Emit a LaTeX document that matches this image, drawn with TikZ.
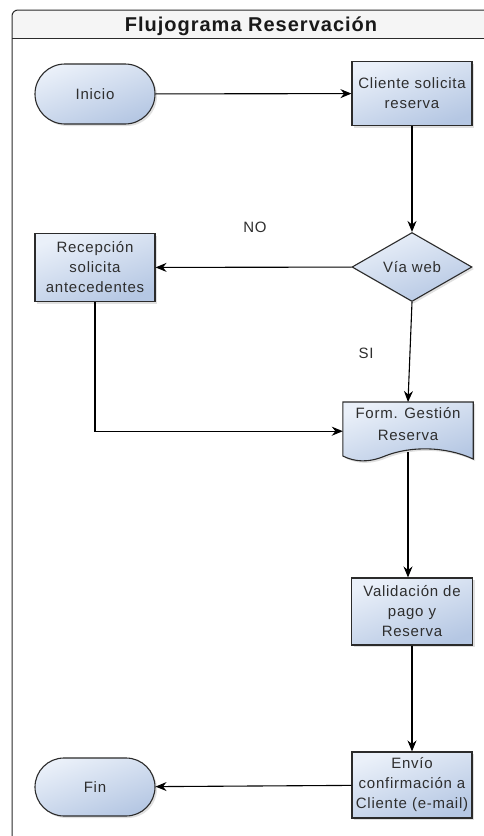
\documentclass[tikz,border=0pt]{standalone}
\usepackage{fontspec}
\setmainfont{Liberation Sans}
\newfontfamily\boxfont[LetterSpace=5]{Liberation Sans}
\newfontfamily\titlefont[LetterSpace=5]{Liberation Sans}
\usetikzlibrary{shapes.geometric,shapes.misc,arrows.meta,shadows}

\definecolor{fillhi}{HTML}{EAF0F9}
\definecolor{filllo}{HTML}{B5C7E3}
\definecolor{edge}{HTML}{2B2B2B}
\definecolor{ink}{HTML}{2E2E2E}

\tikzset{
  shapebase/.style={draw=edge, line width=1.1pt,
    top color=fillhi, bottom color=filllo, shading angle=20,
    drop shadow={shadow xshift=2pt, shadow yshift=-2pt, opacity=0.2, fill=black!60},
    text=ink, font=\boxfont\fontsize{15}{20}\selectfont, align=center, inner sep=0pt},
  procbox/.style={shapebase, rectangle, minimum width=120pt, minimum height=64pt, text width=118pt},
  terminal/.style={shapebase, rounded rectangle, minimum width=120pt, minimum height=60pt},
  decision/.style={shapebase, diamond, aspect=1.72, minimum width=120pt, minimum height=69pt},
  flow/.style={draw=black, line width=1.1pt, -{Stealth[length=11pt, width=9pt]}},
  tag/.style={text=ink, font=\boxfont\fontsize{15}{18}\selectfont}
}

\begin{document}
\begin{tikzpicture}[x=1pt, y=-1pt]
  \useasboundingbox (0,0) rectangle (483,836);

  % pool frame with title band
  \fill[white] (12,850) -- (12,16) arc[start angle=180, end angle=270, radius=6] -- (500,10) -- (500,850) -- cycle;
  \fill[black!4] (12,38) -- (12,16) arc[start angle=180, end angle=270, radius=6] -- (500,10) -- (500,38) -- cycle;
  \draw[edge, line width=1pt] (12,850) -- (12,16) arc[start angle=180, end angle=270, radius=6] -- (500,10);
  \draw[edge, line width=1pt] (12,38) -- (500,38);
  \node[font=\titlefont\bfseries\fontsize{20}{24}\selectfont, text=black!90] (title) at (251,26) {Flujograma Reservación};

  % flow elements
  \node[terminal] (inicio) at (95,94) {Inicio};
  \node[procbox] (cliente) at (412,93.5) {Cliente solicita\\reserva};
  \node[decision] (via) at (412,267) {Vía web};
  \node[procbox, minimum height=68pt] (recep) at (95,267.5) {Recepción\\solicita\\antecedentes};

  % document shape: anchor node plus wavy outline
  \node[inner sep=0pt, minimum width=130pt, minimum height=58pt, anchor=north] (form) at (408,402) {};
  \draw[draw=edge, line width=1.1pt, top color=fillhi, bottom color=filllo, shading angle=20,
        drop shadow={shadow xshift=2pt, shadow yshift=-2pt, opacity=0.2, fill=black!60}]
    (form.north west) -- (form.north east) -- ([yshift=-57pt]form.north east)
    .. controls (445,446) and (410,446) .. (385,456)
    .. controls (368,463) and (355,462) .. ([yshift=-54pt]form.north west) -- cycle;
  \node[text=ink, font=\boxfont\fontsize{15}{22}\selectfont, align=center] (formtext) at (408,424) {Form. Gestión\\Reserva};
  \coordinate (formout) at (408,452);

  \node[procbox, minimum width=121pt, minimum height=67pt] (valid) at (412,611.5) {Validación de\\pago y\\Reserva};
  \node[procbox, minimum height=66pt] (envio) at (412,785) {Envío\\confirmación a\\Cliente (e-mail)};
  \node[terminal, minimum height=58pt] (fin) at (95,787) {Fin};

  % connectors
  \draw[flow] (inicio) -- (cliente);
  \draw[flow] (cliente) -- (via);
  \draw[flow] (via) -- (recep);
  \draw[flow] (via.south) -- (form.north);
  \draw[flow] (recep.south) |- (form.west);
  \draw[flow] (formout) -- (valid.north -| formout);
  \draw[flow] (valid) -- (envio);
  \draw[flow] (envio) -- (fin);

  % branch labels
  \node[tag] (lblno) at (255,227) {NO};
  \node[tag] (lblsi) at (366,353) {SI};
\end{tikzpicture}
\end{document}
